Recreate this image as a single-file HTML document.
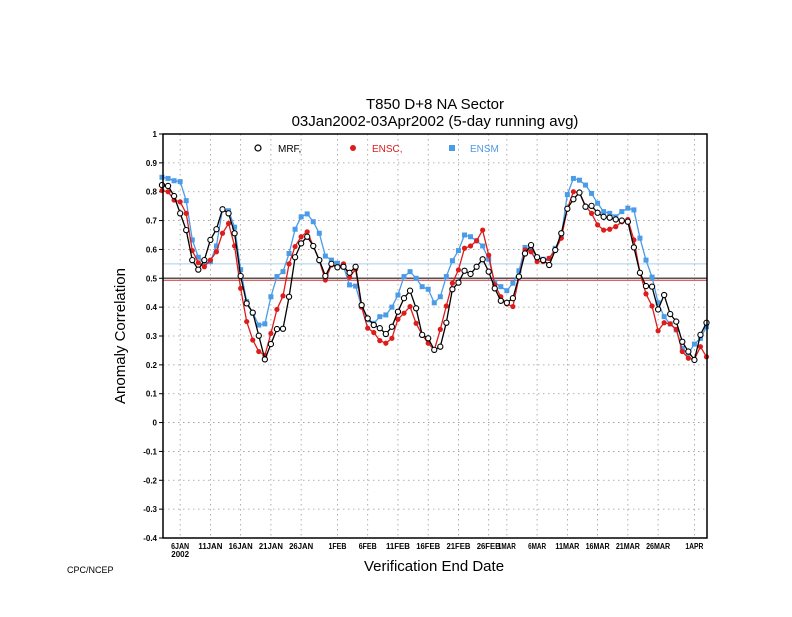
<!DOCTYPE html>
<html><head><meta charset="utf-8"><style>
body{margin:0;background:#fff;}
svg text{font-family:"Liberation Sans",sans-serif;}
</style></head><body>
<svg id="chart" width="792" height="612" xmlns="http://www.w3.org/2000/svg"></svg>
<script>
const dayLabels=[[3,"6JAN"],[8,"11JAN"],[13,"16JAN"],[18,"21JAN"],[23,"26JAN"],[29,"1FEB"],[34,"6FEB"],[39,"11FEB"],[44,"16FEB"],[49,"21FEB"],[54,"26FEB"],[57,"1MAR"],[62,"6MAR"],[67,"11MAR"],[72,"16MAR"],[77,"21MAR"],[82,"26MAR"],[88,"1APR"]];
const yTicks=[1,0.9,0.8,0.7,0.6,0.5,0.4,0.3,0.2,0.1,0,-0.1,-0.2,-0.3,-0.4];
const mrf=[0.823,0.82,0.785,0.725,0.667,0.563,0.53,0.563,0.633,0.67,0.739,0.725,0.656,0.508,0.413,0.381,0.301,0.219,0.272,0.324,0.325,0.436,0.573,0.621,0.644,0.612,0.563,0.508,0.55,0.538,0.54,0.519,0.54,0.407,0.361,0.338,0.327,0.307,0.332,0.384,0.431,0.457,0.396,0.304,0.292,0.252,0.263,0.346,0.462,0.485,0.526,0.515,0.54,0.566,0.523,0.465,0.422,0.415,0.431,0.506,0.586,0.615,0.573,0.563,0.546,0.598,0.656,0.741,0.774,0.797,0.748,0.751,0.727,0.713,0.71,0.704,0.7,0.696,0.607,0.519,0.473,0.471,0.392,0.442,0.376,0.35,0.28,0.246,0.217,0.304,0.346];
const ensc=[0.804,0.8,0.771,0.765,0.725,0.596,0.554,0.54,0.563,0.592,0.656,0.69,0.612,0.465,0.35,0.286,0.246,0.233,0.309,0.392,0.439,0.55,0.61,0.644,0.661,0.612,0.561,0.494,0.546,0.538,0.55,0.504,0.531,0.4,0.327,0.312,0.284,0.275,0.292,0.358,0.379,0.402,0.344,0.304,0.275,0.252,0.323,0.404,0.483,0.529,0.604,0.612,0.63,0.667,0.58,0.477,0.436,0.411,0.402,0.504,0.598,0.592,0.558,0.558,0.569,0.598,0.639,0.74,0.8,0.797,0.751,0.725,0.685,0.667,0.67,0.679,0.696,0.704,0.633,0.519,0.446,0.404,0.318,0.346,0.342,0.323,0.246,0.223,0.219,0.263,0.228];
const ensm=[0.85,0.846,0.838,0.835,0.769,0.633,0.573,0.55,0.558,0.612,0.739,0.734,0.677,0.53,0.419,0.379,0.338,0.342,0.436,0.506,0.523,0.586,0.67,0.713,0.723,0.696,0.656,0.577,0.563,0.552,0.54,0.477,0.473,0.402,0.356,0.344,0.367,0.373,0.4,0.442,0.506,0.523,0.5,0.471,0.462,0.415,0.436,0.506,0.561,0.596,0.65,0.644,0.63,0.612,0.566,0.485,0.471,0.457,0.483,0.526,0.607,0.6,0.573,0.566,0.569,0.604,0.646,0.79,0.846,0.84,0.823,0.794,0.76,0.731,0.725,0.713,0.731,0.743,0.737,0.639,0.563,0.504,0.415,0.367,0.342,0.321,0.257,0.24,0.272,0.292,0.332];
const refLines=[[0.5,"#555",1.5],[0.493,"#d03030",1],[0.55,"#a8d0ee",1]];

const svg=document.getElementById('chart');
const NS="http://www.w3.org/2000/svg";
const L=163,R=707,T=134,B=538;
const X=d=>162+d*6.05;
const Y=v=>T+(1-v)*(B-T)/1.4;
function mk(tag,attrs,txt){const e=document.createElementNS(NS,tag);for(const k in attrs)e.setAttribute(k,attrs[k]);if(txt!==undefined)e.textContent=txt;svg.appendChild(e);return e;}

let e;
e=mk('text',{x:435,y:109,'text-anchor':'middle','font-size':15},'T850 D+8 NA Sector');


e=mk('text',{x:435,y:126,'text-anchor':'middle','font-size':15},'03Jan2002-03Apr2002 (5-day running avg)');



yTicks.forEach(v=>{
  e=mk('line',{x1:L,x2:R,y1:Y(v),y2:Y(v),stroke:'#999','stroke-width':0.8,'stroke-dasharray':'1.5,3.5'});
  
  
  e=mk('line',{x1:L-4,x2:L,y1:Y(v),y2:Y(v),stroke:'#000'});
  
  
  e=mk('text',{x:L-6,y:Y(v)+3,'text-anchor':'end','font-size':8,'font-weight':'bold'},String(v));
  
  
});
dayLabels.forEach(([d,lab])=>{
  e=mk('line',{x1:X(d),x2:X(d),y1:T,y2:B,stroke:'#999','stroke-width':0.8,'stroke-dasharray':'1.5,3.5'});
  
  
  e=mk('text',{x:X(d),y:549,'text-anchor':'middle','font-size':8,'font-weight':'bold','textLength':lab.length>4?24:18,'lengthAdjust':'spacingAndGlyphs'},lab);
  
  
});
e=mk('text',{x:X(3),y:557,'text-anchor':'middle','font-size':8,'font-weight':'bold'},'2002');



refLines.forEach(([v,c,w])=>{
  e=mk('line',{x1:L,x2:R,y1:Y(v),y2:Y(v),stroke:c,'stroke-width':w});
  
  
});

function series(arr,color,kind,name){
  const pts=arr.map((v,i)=>X(i).toFixed(1)+','+Y(v).toFixed(1)).join(' ');
  e=mk('polyline',{points:pts,fill:'none',stroke:color,'stroke-width':1.3});
  
  
  arr.forEach((v,i)=>{
    if(kind==='circle'){e=mk('circle',{cx:X(i),cy:Y(v),r:2.6,fill:'#fff',stroke:'#000','stroke-width':1.1});}
    else if(kind==='dot'){e=mk('circle',{cx:X(i),cy:Y(v),r:2.6,fill:color});}
    else {e=mk('rect',{x:X(i)-2.5,y:Y(v)-2.5,width:5,height:5,fill:color});}
    
    
  });
}
series(ensm,'#4a9be8','square','ensm');
series(ensc,'#dd1c1c','dot','ensc');
series(mrf,'#000','circle','mrf');

e=mk('rect',{x:L,y:T,width:R-L,height:B-T,fill:'none',stroke:'#000','stroke-width':1.5});



e=mk('circle',{cx:258,cy:148,r:3,fill:'#fff',stroke:'#000','stroke-width':1.2});


e=mk('text',{x:278,y:152,'font-size':10},'MRF,');


e=mk('circle',{cx:353,cy:148,r:3,fill:'#dd1c1c'});


e=mk('text',{x:372,y:152,'font-size':10,fill:'#dd1c1c'},'ENSC,');


e=mk('rect',{x:449,y:145,width:6,height:6,fill:'#4a9be8'});


e=mk('text',{x:470,y:152,'font-size':10,fill:'#4a9be8'},'ENSM');



e=mk('text',{x:125,y:336,'text-anchor':'middle','font-size':15,transform:'rotate(-90 125 336)'},'Anomaly Correlation');


e=mk('text',{x:434,y:571,'text-anchor':'middle','font-size':15},'Verification End Date');


e=mk('text',{x:67,y:573,'font-size':9},'CPC/NCEP');


</script>
</body></html>
